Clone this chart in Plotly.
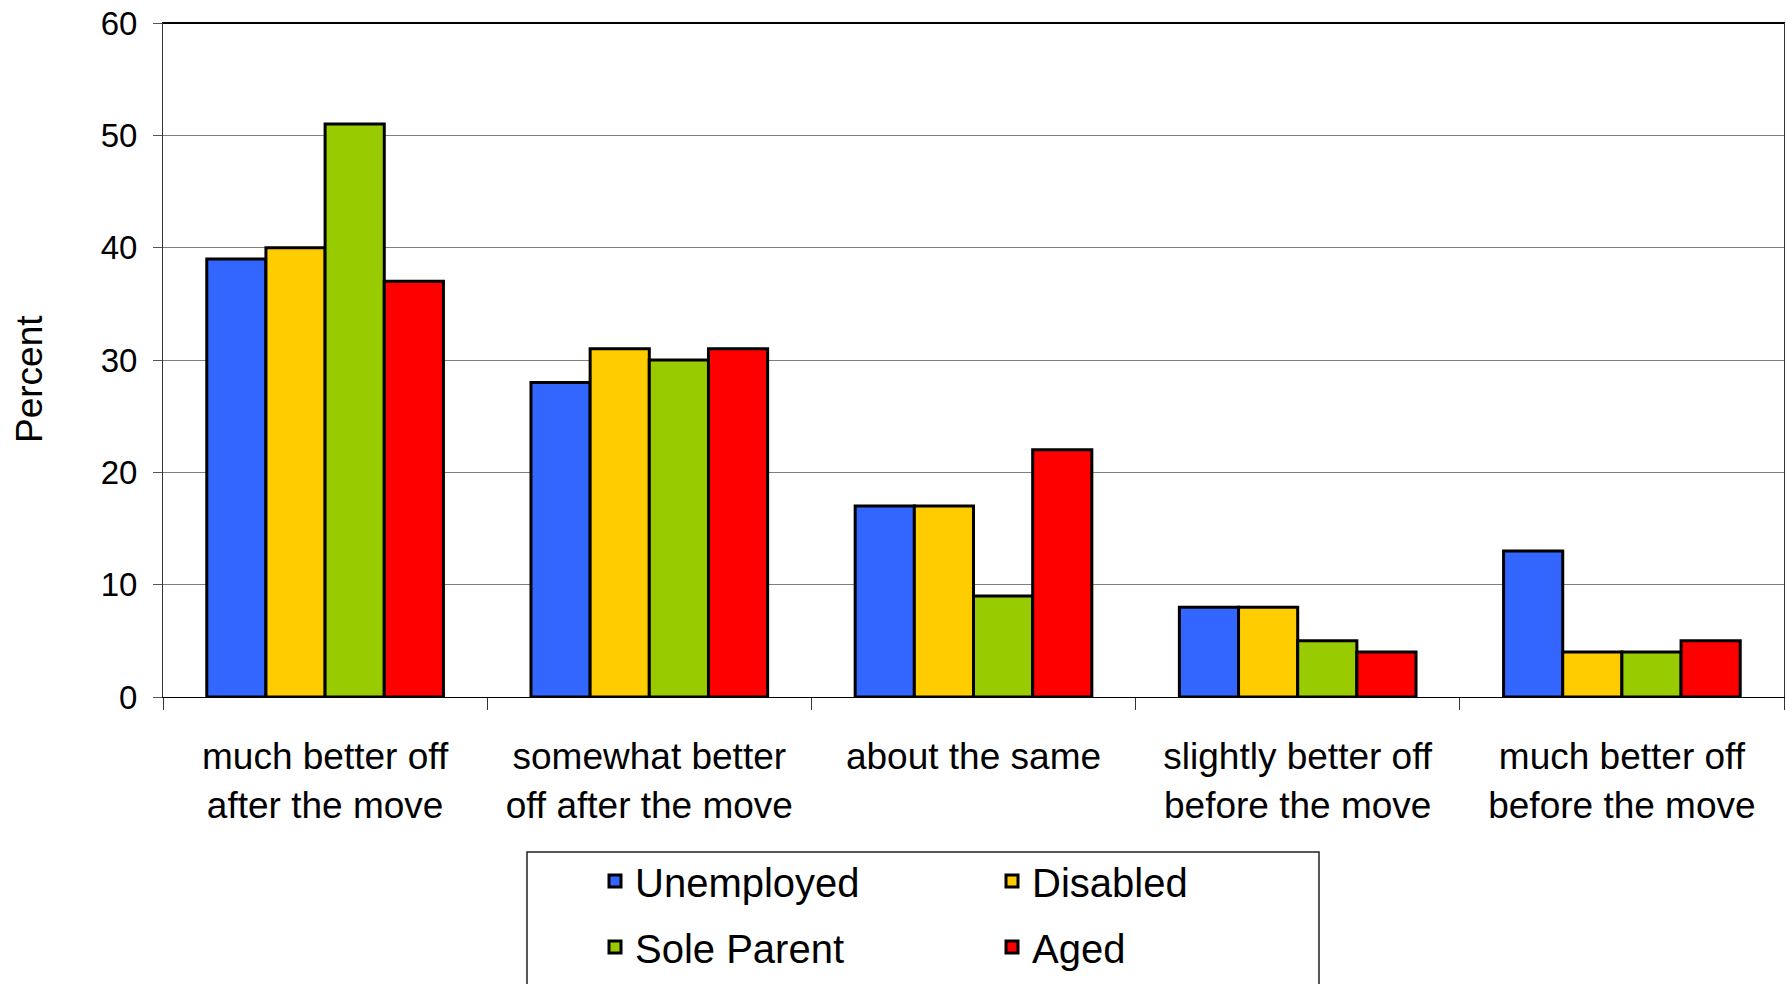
import plotly.graph_objects as go

categories = [
    "much better off<br>after the move",
    "somewhat better<br>off after the move",
    "about the same",
    "slightly better off<br>before the move",
    "much better off<br>before the move",
]
unemployed = [39, 28, 17, 8, 13]
disabled = [40, 31, 17, 8, 4]
sole_parent = [51, 30, 9, 5, 4]
aged = [37, 31, 22, 4, 5]

series = [
    ("Unemployed", unemployed, "#3366FF", "legend"),
    ("Disabled", disabled, "#FFCC00", "legend"),
    ("Sole Parent", sole_parent, "#99CC00", "legend2"),
    ("Aged", aged, "#FF0000", "legend2"),
]

FONT = "Liberation Sans, Arial, sans-serif"

fig = go.Figure()
for name, vals, color, leg in series:
    fig.add_trace(go.Bar(
        x=categories, y=vals, name=name,
        marker=dict(color=color, line=dict(color="black", width=3)),
        legend=leg,
    ))

W, H = 1786, 984
L, R, T, B = 163, 2, 23, 287
pw, ph = W - L - R, H - T - B

def px_x(x):
    return (x - L) / pw

def px_y(y):
    return (H - B - y) / ph

legend_common = dict(
    orientation="h", xanchor="left", yanchor="middle",
    entrywidth=352, font=dict(size=40, family=FONT),
    bgcolor="rgba(0,0,0,0)", borderwidth=0,
)

fig.update_layout(
    width=W, height=H, autosize=False,
    margin=dict(l=L, r=R, t=T, b=B),
    paper_bgcolor="white", plot_bgcolor="white",
    font=dict(family=FONT, size=33, color="black"),
    barmode="group", bargap=0.27, bargroupgap=0,
    legend=dict(x=px_x(595), y=px_y(881), **legend_common),
    legend2=dict(x=px_x(595), y=px_y(947), **legend_common),
    shapes=[
        dict(
            type="rect", xref="paper", yref="paper",
            x0=px_x(527), x1=px_x(1319), y0=px_y(852), y1=px_y(1000),
            line=dict(color="#222222", width=1.5), fillcolor="rgba(0,0,0,0)",
        ),
        dict(
            type="line", xref="paper", yref="paper",
            x0=0, x1=1, y0=1, y1=1, line=dict(color="black", width=2),
        ),
    ],
    annotations=[dict(
        text="Percent", xref="paper", yref="paper",
        x=px_x(29), y=px_y(379), textangle=-90, showarrow=False,
        font=dict(size=37, family=FONT), xanchor="center", yanchor="middle",
    )],
)

fig.update_xaxes(
    showline=True, linecolor="black", linewidth=1, mirror=True,
    ticks="outside", ticklen=12, tickcolor="#333333", tickwidth=1,
    tickson="boundaries", tickfont=dict(size=37, family=FONT),
    ticklabelstandoff=27, showgrid=False,
)
fig.update_yaxes(
    range=[0, 60], dtick=10, tick0=0,
    showline=True, linecolor="#333333", linewidth=1, mirror=True,
    ticks="outside", ticklen=9, tickcolor="#555555",
    showgrid=True, gridcolor="#808080", gridwidth=1,
    tickfont=dict(size=33, family=FONT), ticklabelstandoff=9,
    zeroline=False,
)

fig.write_html(
    "out.html",
    config={"displayModeBar": False},
    post_script="document.body.style.margin='0';",
)
